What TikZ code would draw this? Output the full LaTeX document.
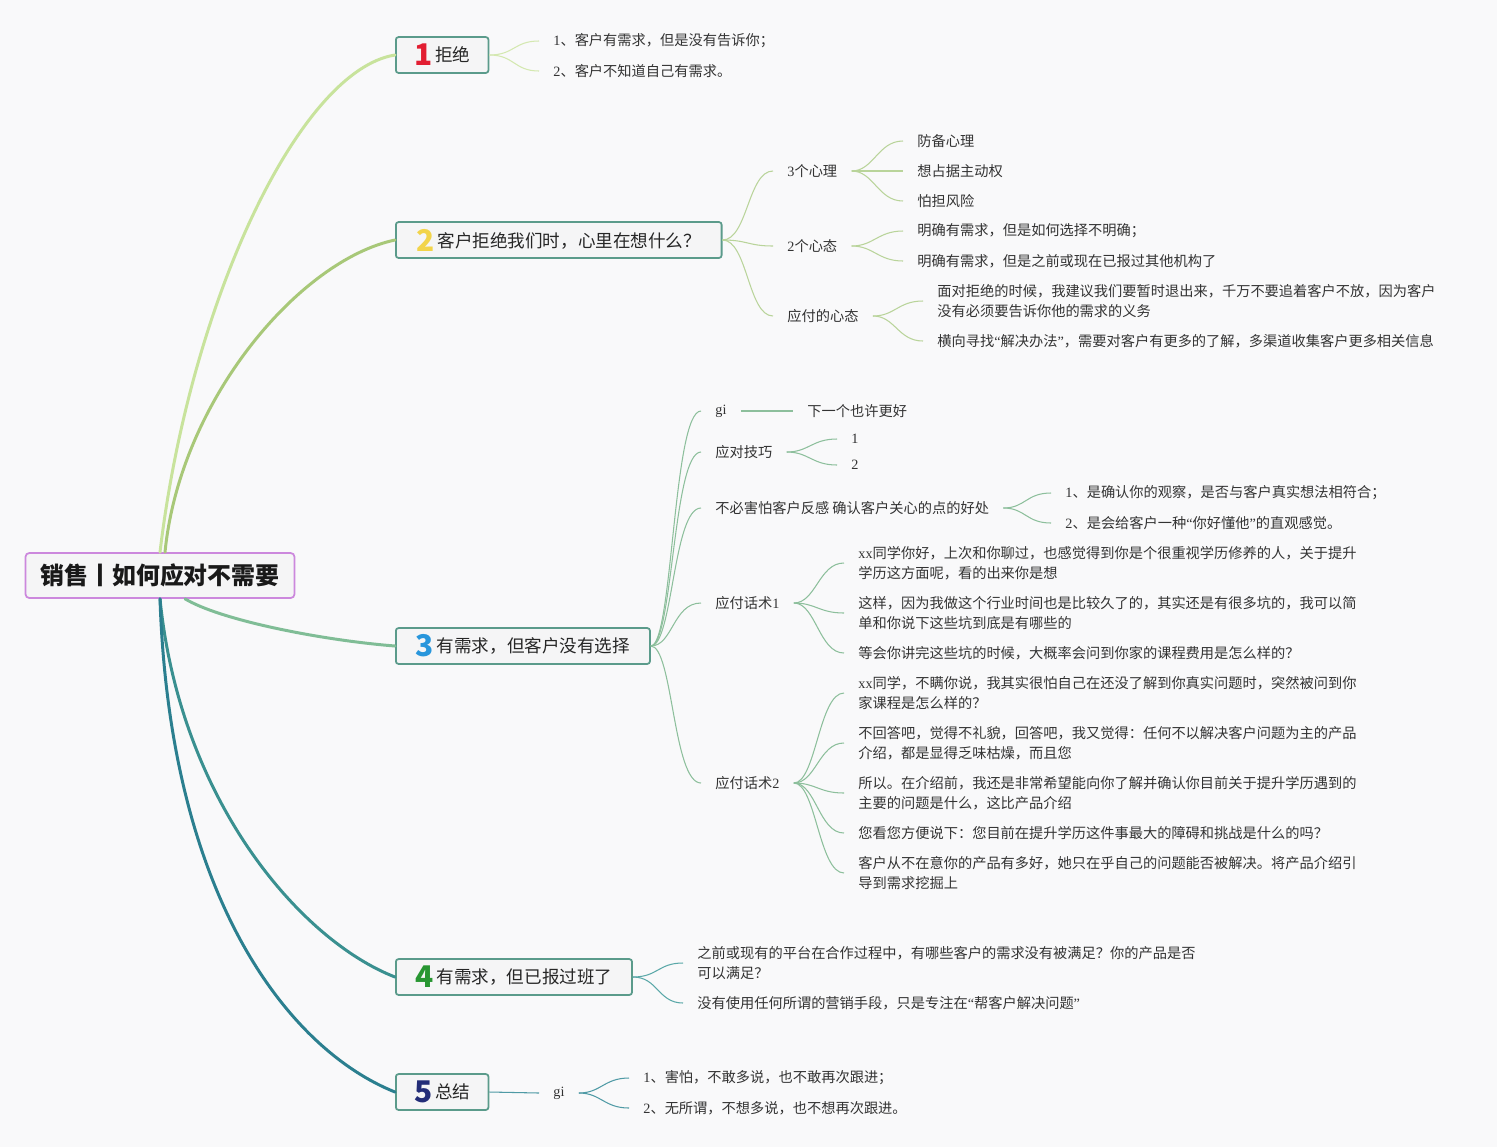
\documentclass[tikz,border=0pt]{standalone}
\usepackage{fontspec}
\setmainfont{Noto Sans CJK SC}
\newfontfamily\lat{Liberation Serif}
\definecolor{bgc}{RGB}{249,249,250}
\definecolor{boxfill}{RGB}{245,245,246}
\definecolor{rootc}{RGB}{204,136,221}
\definecolor{topicc}{RGB}{91,155,139}
\definecolor{txt}{RGB}{51,51,51}
\definecolor{lineA}{RGB}{200,227,156}
\definecolor{lineB}{RGB}{168,200,120}
\definecolor{lineC}{RGB}{128,189,150}
\definecolor{lineD}{RGB}{58,144,144}
\definecolor{lineE}{RGB}{43,127,143}
\definecolor{subA}{RGB}{212,232,176}
\definecolor{subB}{RGB}{185,212,154}
\definecolor{subC}{RGB}{141,191,156}
\definecolor{subD}{RGB}{90,168,168}
\definecolor{subE}{RGB}{79,154,165}
\definecolor{numA}{RGB}{226,30,50}
\definecolor{numB}{RGB}{242,212,74}
\definecolor{numC}{RGB}{40,150,220}
\definecolor{numD}{RGB}{40,150,50}
\definecolor{numE}{RGB}{35,45,120}
\newcommand{\tnum}[2]{\raisebox{-2.2pt}{\color{#1}\fontsize{17}{17}\selectfont\bfseries #2}\,}
\newcommand{\oq}{{\lat “}}
\newcommand{\cq}{{\lat ”}}

\begin{document}
\begin{tikzpicture}[x=0.02cm,y=-0.02cm,
  root/.style={draw=rootc, fill=boxfill, rounded corners=2pt, line width=1pt,
    font=\bfseries\fontsize{13.6}{16}\selectfont, text=black!90,
    minimum width=153pt, minimum height=25.5pt, inner sep=0pt},
  topic/.style={draw=topicc, fill=boxfill, rounded corners=1.5pt, line width=1pt,
    font=\fontsize{10}{12}\selectfont, text=black!85, anchor=west,
    minimum height=20.4pt, inner xsep=0pt, inner ysep=0pt},
  leaf/.style={anchor=west, inner xsep=8pt, inner ysep=1pt, align=left,
    font=\fontsize{8.1}{11.3}\selectfont, text=txt},
  branch/.style={line width=1.7pt, line cap=round},
  sub/.style={line width=0.6pt}]

% Background
\fill[bgc] (0,0) rectangle (1497,1147);
\useasboundingbox (0,0) rectangle (1497,1147);

% Central topic
\node[root] (root) at (160,575.5) {销售丨如何应对不需要};

% Main topics
\node[topic, minimum width=52.7pt] (t1) at (395,55) {\tnum{numA}{1}拒绝};
\node[topic, minimum width=185.4pt] (t2) at (395,240) {\tnum{numB}{2}客户拒绝我们时，心里在想什么？};
\node[topic, minimum width=144.6pt] (t3) at (395,646) {\tnum{numC}{3}有需求，但客户没有选择};
\node[topic, minimum width=134.4pt] (t4) at (395,977) {\tnum{numD}{4}有需求，但已报过班了};
\node[topic, minimum width=52.7pt] (t5) at (395,1092) {\tnum{numE}{5}总结};

% Branches from the centre
\draw[branch, lineA] (root.north) .. controls (190,300) and (300,70) .. (t1.west);
\draw[branch, lineB] ([xshift=0.1cm]root.north) .. controls (180,400) and (300,260) .. (t2.west);
\draw[branch, lineC] ([xshift=0.5cm]root.south) .. controls (220,620) and (320,640) .. (t3.west);
\draw[branch, lineD] (root.south) .. controls (180,800) and (300,940) .. (t4.west);
\draw[branch, lineE] (root.south) .. controls (170,900) and (290,1050) .. (t5.west);

% 1 refusal
\node[leaf] (a1) at (539,41) {{\lat 1}、客户有需求，但是没有告诉你；};
\node[leaf] (a2) at (539,71) {{\lat 2}、客户不知道自己有需求。};
\foreach \n in {a1,a2}
  \draw[sub, subA] (t1.east) .. controls +(25,0) and +(-25,0) .. (\n.west);

% 2 what the customer thinks
\node[leaf] (b1) at (773,171) {{\lat 3}个心理};
\node[leaf] (b2) at (773,246) {{\lat 2}个心态};
\node[leaf] (b3) at (773,316) {应付的心态};
\foreach \n in {b1,b2,b3}
  \draw[sub, subB] (t2.east) .. controls +(25,0) and +(-25,0) .. (\n.west);

\node[leaf] (b11) at (903,141) {防备心理};
\node[leaf] (b12) at (903,171) {想占据主动权};
\node[leaf] (b13) at (903,201) {怕担风险};
\foreach \n in {b11,b12,b13}
  \draw[sub, subB] (b1.east) .. controls +(22,0) and +(-25,0) .. (\n.west);

\node[leaf] (b21) at (903,231) {明确有需求，但是如何选择不明确；};
\node[leaf] (b22) at (903,261) {明确有需求，但是之前或现在已报过其他机构了};
\foreach \n in {b21,b22}
  \draw[sub, subB] (b2.east) .. controls +(22,0) and +(-25,0) .. (\n.west);

\node[leaf] (b31) at (923,301) {面对拒绝的时候，我建议我们要暂时退出来，千万不要追着客户不放，因为客户\\没有必须要告诉你他的需求的义务};
\node[leaf] (b32) at (923,341) {横向寻找\oq 解决办法\cq，需要对客户有更多的了解，多渠道收集客户更多相关信息};
\foreach \n in {b31,b32}
  \draw[sub, subB] (b3.east) .. controls +(22,0) and +(-25,0) .. (\n.west);

% 3 need but no choice
\node[leaf] (c1) at (701,411) {{\lat gi}};
\node[leaf] (c2) at (701,452) {应对技巧};
\node[leaf] (c3) at (701,508) {不必害怕客户反感 确认客户关心的点的好处};
\node[leaf] (c4) at (701,603) {应付话术{\lat 1}};
\node[leaf] (c5) at (701,783) {应付话术{\lat 2}};
\foreach \n in {c1,c2,c3,c4,c5}
  \draw[sub, subC] (t3.east) .. controls +(22,0) and +(-28,0) .. (\n.west);

\node[leaf] (c11) at (793,411) {下一个也许更好};
\draw[sub, subC] (c1.east) -- (c11.west);

\node[leaf] (c21) at (837,439) {{\lat 1}};
\node[leaf] (c22) at (837,465) {{\lat 2}};
\foreach \n in {c21,c22}
  \draw[sub, subC] (c2.east) .. controls +(22,0) and +(-25,0) .. (\n.west);

\node[leaf] (c31) at (1051,493) {{\lat 1}、是确认你的观察，是否与客户真实想法相符合；};
\node[leaf] (c32) at (1051,523) {{\lat 2}、是会给客户一种\oq 你好懂他\cq 的直观感觉。};
\foreach \n in {c31,c32}
  \draw[sub, subC] (c3.east) .. controls +(22,0) and +(-25,0) .. (\n.west);

\node[leaf] (c41) at (844,563) {{\lat xx}同学你好，上次和你聊过，也感觉得到你是个很重视学历修养的人，关于提升\\学历这方面呢，看的出来你是想};
\node[leaf] (c42) at (844,613) {这样，因为我做这个行业时间也是比较久了的，其实还是有很多坑的，我可以简\\单和你说下这些坑到底是有哪些的};
\node[leaf] (c43) at (844,653) {等会你讲完这些坑的时候，大概率会问到你家的课程费用是怎么样的？};
\foreach \n in {c41,c42,c43}
  \draw[sub, subC] (c4.east) .. controls +(22,0) and +(-25,0) .. (\n.west);

\node[leaf] (c51) at (844,693) {{\lat xx}同学，不瞒你说，我其实很怕自己在还没了解到你真实问题时，突然被问到你\\家课程是怎么样的？};
\node[leaf] (c52) at (844,743) {不回答吧，觉得不礼貌，回答吧，我又觉得：任何不以解决客户问题为主的产品\\介绍，都是显得乏味枯燥，而且您};
\node[leaf] (c53) at (844,793) {所以。在介绍前，我还是非常希望能向你了解并确认你目前关于提升学历遇到的\\主要的问题是什么，这比产品介绍};
\node[leaf] (c54) at (844,833) {您看您方便说下：您目前在提升学历这件事最大的障碍和挑战是什么的吗？};
\node[leaf] (c55) at (844,873) {客户从不在意你的产品有多好，她只在乎自己的问题能否被解决。将产品介绍引\\导到需求挖掘上};
\foreach \n in {c51,c52,c53,c54,c55}
  \draw[sub, subC] (c5.east) .. controls +(22,0) and +(-25,0) .. (\n.west);

% 4 need but already enrolled
\node[leaf] (d1) at (683,963) {之前或现有的平台在合作过程中，有哪些客户的需求没有被满足？你的产品是否\\可以满足？};
\node[leaf] (d2) at (683,1003) {没有使用任何所谓的营销手段，只是专注在\oq 帮客户解决问题\cq};
\foreach \n in {d1,d2}
  \draw[sub, subD] (t4.east) .. controls +(25,0) and +(-25,0) .. (\n.west);

% 5 summary
\node[leaf] (e1) at (539,1093) {{\lat gi}};
\draw[sub, subE] (t5.east) -- (e1.west);
\node[leaf] (e11) at (629,1078) {{\lat 1}、害怕，不敢多说，也不敢再次跟进；};
\node[leaf] (e12) at (629,1108) {{\lat 2}、无所谓，不想多说，也不想再次跟进。};
\foreach \n in {e11,e12}
  \draw[sub, subE] (e1.east) .. controls +(22,0) and +(-25,0) .. (\n.west);
\end{tikzpicture}
\end{document}
